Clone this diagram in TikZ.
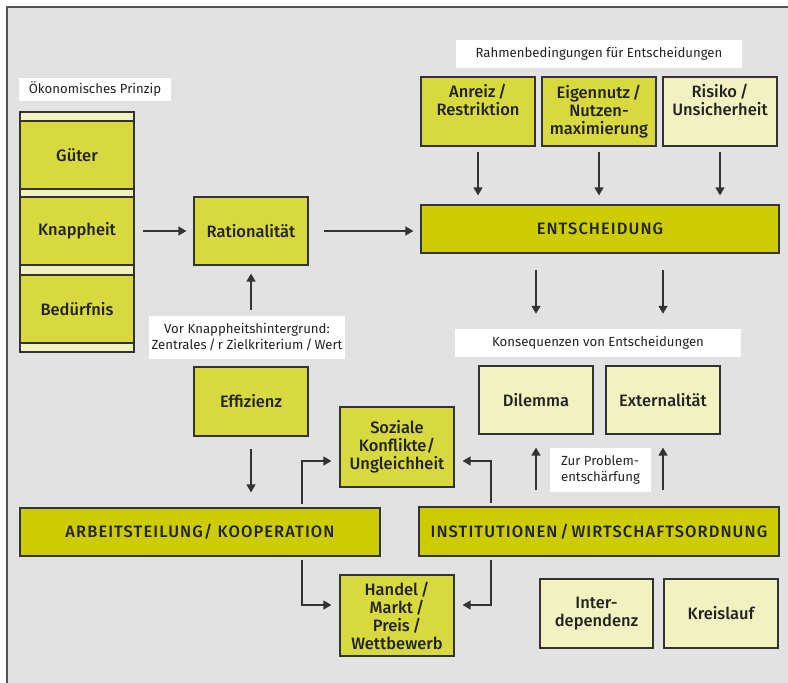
\documentclass[tikz,border=0pt]{standalone}
\usepackage{fontspec}
\setmainfont{Fira Sans}
\newfontfamily\boxfont{Fira Sans Medium}
\newfontfamily\capsfont[LetterSpace=6.5]{Fira Sans Medium}
\usetikzlibrary{arrows.meta}

\definecolor{bg}{HTML}{E2E2E2}
\definecolor{midy}{HTML}{D8D83F}
\definecolor{darky}{HTML}{CCCC00}
\definecolor{lighty}{HTML}{F2F2C0}
\definecolor{edge}{HTML}{333333}
\definecolor{frame}{HTML}{555555}
\definecolor{txt}{HTML}{222222}

\tikzset{
  sz/.style 2 args={minimum width=#1pt, minimum height=#2pt},
  box/.style={draw=edge, line width=1.2pt, inner sep=0pt, align=center,
    text=txt, font=\boxfont\fontsize{16.5}{18}\selectfont},
  midbox/.style={box, fill=midy},
  darkbox/.style={box, fill=darky, font=\capsfont\fontsize{16.5}{18}\selectfont},
  lightbox/.style={box, fill=lighty},
  lab/.style={fill=white, inner sep=0pt, align=center, text=txt,
    font=\fontsize{13.2}{16}\selectfont},
  arr/.style={line width=1.4pt, draw=edge, -{Triangle[length=8pt,width=9pt]}},
}

\begin{document}
\begin{tikzpicture}[x=1pt, y=-1pt]
\useasboundingbox (0,0) rectangle (788,683);
% panel and its frame
\fill[bg] (6,6) rectangle (788,683);
\draw[frame, line width=2pt] (6.5,683) -- (6.5,6.5) -- (788,6.5);

% economic principle column
\node[lab, sz={152}{23}] (oek) at (95,89.5) {Ökonomisches Prinzip};
\node[lightbox, sz={114}{240}] (col) at (77,232) {};
\node[midbox, sz={114}{68}] (gut) at (77,155) {Güter};
\node[midbox, sz={114}{68}] (kna) at (77,231) {Knappheit};
\node[midbox, sz={114}{68}] (bed) at (77,309) {Bedürfnis};

\node[midbox, sz={114}{68}] (rat) at (251,231) {Rationalität};
\node[lab, sz={196}{43}] (vor) at (247,337.5) {Vor Knappheitshintergrund:\\Zentrales\,/\,r Zielkriterium\,/\,Wert};
\node[midbox, sz={114}{69}] (eff) at (251,401.5) {Effizienz};

% framework of decisions
\node[lab, sz={286}{28}] (rah) at (599,54) {Rahmenbedingungen für Entscheidungen};
\node[midbox, sz={114}{69}] (anr) at (478,111.5) {Anreiz\,/\\Restriktion\\\strut};
\node[midbox, sz={114}{69}] (eig) at (599,111.5) {Eigennutz\,/\\Nutzen-\\maximierung};
\node[lightbox, sz={114}{69}] (ris) at (720,111.5) {Risiko\,/\\Unsicherheit\\\strut};
\node[darkbox, sz={358}{48}] (ent) at (600,229) {ENTSCHEIDUNG};

% consequences
\node[lab, sz={286}{28}] (kon) at (598,343) {Konsequenzen von Entscheidungen};
\node[lightbox, sz={114}{68}] (dil) at (536,400) {Dilemma};
\node[lightbox, sz={114}{68}] (ext) at (663,400) {Externalität};
\node[lab, sz={101}{44}, align=left] (zur) at (600.5,470) {Zur Problem-\\entschärfung};

% lower block
\node[midbox, sz={114}{80}] (soz) at (397,447) {Soziale\\Konflikte/\\Ungleichheit};
\node[midbox, sz={114}{81}] (han) at (397,615.5) {Handel\,/\\Markt\,/\\Preis\,/\\Wettbewerb};
\node[darkbox, sz={360}{48}] (arb) at (200,532) {ARBEITSTEILUNG/ KOOPERATION};
\node[darkbox, sz={360}{49}] (ins) at (599,531.5) {INSTITUTIONEN\,/\,WIRTSCHAFTSORDNUNG};
\node[lightbox, sz={113}{69}] (int) at (596.5,613.5) {Inter-\\dependenz};
\node[lightbox, sz={114}{69}] (kre) at (721,613.5) {Kreislauf};

% connectors
\draw[arr, shorten <=8pt, shorten >=7pt] (kna.east) -- (rat.west);
\draw[arr, shorten <=15pt, shorten >=7pt] (rat.east) -- (rat.east -| ent.west);
\draw[arr, shorten <=6pt, shorten >=8pt] (rat.south |- vor.north) -- (rat.south);
\draw[arr, shorten <=12pt, shorten >=15pt] (eff.south) -- (eff.south |- arb.north);

\draw[arr, shorten <=5pt, shorten >=9pt] (anr.south) -- (anr.south |- ent.north);
\draw[arr, shorten <=5pt, shorten >=9pt] (eig.south) -- (eig.south |- ent.north);
\draw[arr, shorten <=5pt, shorten >=9pt] (ris.south) -- (ris.south |- ent.north);

\draw[arr, shorten <=16pt, shorten >=15pt] (ent.south -| dil.north) -- (kon.north -| dil.north);
\draw[arr, shorten <=16pt, shorten >=15pt] (ent.south -| ext.north) -- (kon.north -| ext.north);

\draw[arr, shorten <=16pt, shorten >=13pt] (dil.south |- ins.north) -- (dil.south);
\draw[arr, shorten <=16pt, shorten >=13pt] (ext.south |- ins.north) -- (ext.south);

\draw[arr, shorten <=3pt, shorten >=8pt] ([xshift=102pt]arb.north) |- ([yshift=-14pt]soz.west);
\draw[arr, shorten <=3pt, shorten >=8pt] ([xshift=102pt]arb.south) |- ([yshift=10.5pt]han.west);
\draw[arr, shorten <=3pt, shorten >=8pt] ([xshift=-108pt]ins.north) |- ([yshift=-14pt]soz.east);
\draw[arr, shorten <=3pt, shorten >=8pt] ([xshift=-108pt]ins.south) |- ([yshift=10.5pt]han.east);
\end{tikzpicture}
\end{document}
